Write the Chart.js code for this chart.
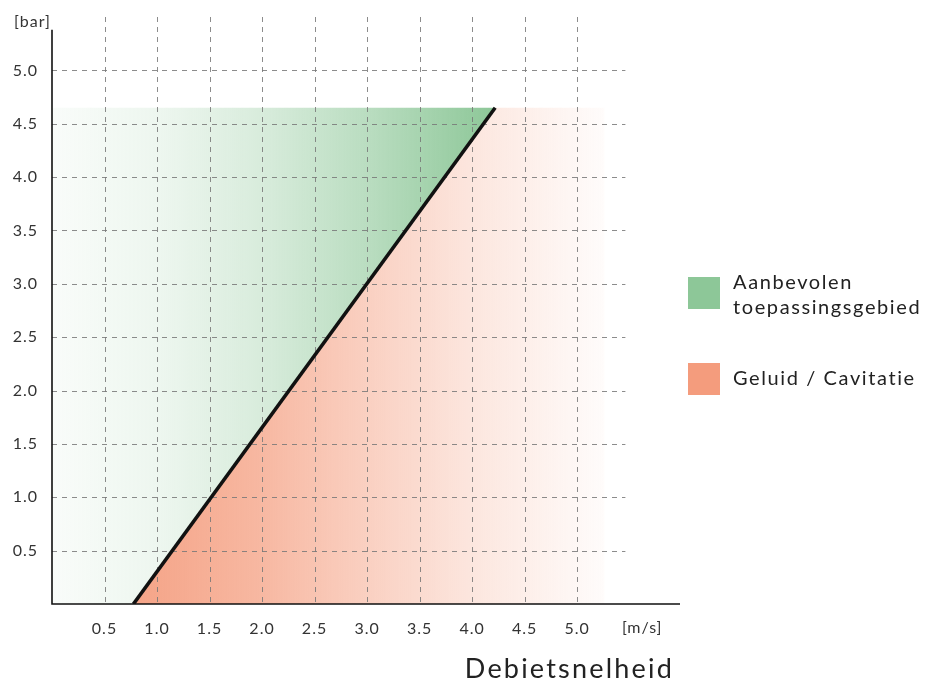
<!DOCTYPE html>
<html>
<head>
<meta charset="utf-8">
<script src="https://cdn.jsdelivr.net/npm/chart.js@4.4.1/dist/chart.umd.min.js"></script>
<style>
  html, body { margin: 0; padding: 0; background: #fff; }
  #wrap { position: relative; width: 926px; height: 682px; font-family: Lato, "Open Sans", sans-serif; }
  canvas { position: absolute; left: 0; top: 0; }
  .lg { position: absolute; left: 688px; width: 240px; color: #222; font-size: 20px; line-height: 25px; letter-spacing: 1.6px; }
  .sw { position: absolute; left: 0; width: 32px; height: 32px; }
  .tx { position: absolute; left: 45px; white-space: nowrap; }
</style>
</head>
<body>
<div id="wrap">
  <canvas id="c" width="926" height="682"></canvas>
  <div class="lg" style="top:277px;"><div class="sw" style="background:#8dc798;"></div><div class="tx" style="top:-8px;">Aanbevolen<br>toepassingsgebied</div></div>
  <div class="lg" style="top:363px;"><div class="sw" style="background:#f49c7d;"></div><div class="tx" style="top:2px;">Geluid / Cavitatie</div></div>
</div>
<script>
// ---- data ----
const xTicks = [0.5, 1.0, 1.5, 2.0, 2.5, 3.0, 3.5, 4.0, 4.5, 5.0];
const yTicks = [0.5, 1.0, 1.5, 2.0, 2.5, 3.0, 3.5, 4.0, 4.5, 5.0];
const xUnit = '[m/s]';
const yUnit = '[bar]';
const xTitle = 'Debietsnelheid';
const boundaryLine = [{x: 0.775, y: 0}, {x: 4.22, y: 4.65}];
const recommendedArea = [{x: 0, y: 0}, {x: 0.775, y: 0}, {x: 4.22, y: 4.65}, {x: 0, y: 4.65}];
const noiseArea = [{x: 0.775, y: 0}, {x: 5.26, y: 0}, {x: 5.26, y: 4.65}, {x: 4.22, y: 4.65}];
const legendLabels = ['Aanbevolen toepassingsgebied', 'Geluid / Cavitatie'];

const FONT = 'Lato, "Open Sans", sans-serif';

function greenGrad(ctx) {
  const chart = ctx.chart;
  if (!chart.chartArea) return 'rgba(141,199,152,0.5)';
  const xs = chart.scales.x;
  const g = chart.ctx.createLinearGradient(xs.getPixelForValue(0), 0, xs.getPixelForValue(4.22), 0);
  g.addColorStop(0, 'rgba(141,199,152,0.05)');
  g.addColorStop(0.25, 'rgba(141,199,152,0.16)');
  g.addColorStop(0.48, 'rgba(141,199,152,0.35)');
  g.addColorStop(0.72, 'rgba(141,199,152,0.62)');
  g.addColorStop(1, 'rgba(141,199,152,1)');
  return g;
}
function salmonGrad(ctx) {
  const chart = ctx.chart;
  if (!chart.chartArea) return 'rgba(244,156,125,0.5)';
  const xs = chart.scales.x;
  const g = chart.ctx.createLinearGradient(xs.getPixelForValue(0.775), 0, xs.getPixelForValue(5.26), 0);
  g.addColorStop(0, 'rgba(244,156,125,0.92)');
  g.addColorStop(0.27, 'rgba(244,156,125,0.72)');
  g.addColorStop(0.5, 'rgba(244,156,125,0.47)');
  g.addColorStop(0.72, 'rgba(244,156,125,0.25)');
  g.addColorStop(0.94, 'rgba(244,156,125,0.08)');
  g.addColorStop(1, 'rgba(244,156,125,0.03)');
  return g;
}

const gridPlugin = {
  id: 'gridPlugin',
  beforeDraw(chart) {
    chart.ctx.letterSpacing = '1px';
  },
  beforeDatasetsDraw(chart) {
    const {ctx, chartArea: a, scales: {x, y}} = chart;
    ctx.save();
    ctx.strokeStyle = 'rgba(120,120,120,0.85)';
    ctx.lineWidth = 1;
    ctx.setLineDash([5, 5]);
    xTicks.forEach(v => {
      const px = Math.round(x.getPixelForValue(v)) + 0.5;
      ctx.beginPath(); ctx.moveTo(px, a.top); ctx.lineTo(px, a.bottom); ctx.stroke();
    });
    const hEnd = x.getPixelForValue(5.46);
    yTicks.forEach(v => {
      const py = Math.round(y.getPixelForValue(v)) + 0.5;
      ctx.beginPath(); ctx.moveTo(a.left, py); ctx.lineTo(hEnd, py); ctx.stroke();
    });
    ctx.setLineDash([]);
    ctx.strokeStyle = '#111';
    ctx.lineWidth = 1.6;
    ctx.beginPath();
    ctx.moveTo(a.left, y.getPixelForValue(5.38));
    ctx.lineTo(a.left, a.bottom);
    ctx.lineTo(a.right, a.bottom);
    ctx.stroke();
    ctx.restore();
  },
  afterDraw(chart) {
    const {ctx, chartArea: a, scales: {x, y}} = chart;
    ctx.save();
    ctx.fillStyle = '#333';
    ctx.letterSpacing = '1px';
    ctx.font = '16px ' + FONT;
    ctx.textBaseline = 'middle';
    ctx.textAlign = 'right';
    ctx.fillText(yUnit, a.left - 1, y.getPixelForValue(5.45));
    ctx.textAlign = 'center';
    ctx.fillText(xUnit, x.getPixelForValue(5.62), a.bottom + 24);
    ctx.fillStyle = '#222';
    ctx.letterSpacing = '2.2px';
    ctx.font = '27px ' + FONT;
    ctx.textAlign = 'right';
    ctx.fillText(xTitle, 674, a.bottom + 65);
    ctx.restore();
  }
};

const noPad = s => { s.paddingTop = 0; s.paddingBottom = 0; s.paddingLeft = 0; s.paddingRight = 0; };

new Chart(document.getElementById('c'), {
  type: 'line',
  data: {
    datasets: [
      { label: legendLabels[0], data: recommendedArea, fill: 'shape', backgroundColor: greenGrad,
        borderColor: 'rgba(0,0,0,0)', borderWidth: 0, pointRadius: 0, tension: 0 },
      { label: legendLabels[1], data: noiseArea, fill: 'shape', backgroundColor: salmonGrad,
        borderColor: 'rgba(0,0,0,0)', borderWidth: 0, pointRadius: 0, tension: 0 },
      { label: 'grens', data: boundaryLine, fill: false, borderColor: '#111', borderWidth: 3.6,
        pointRadius: 0, tension: 0, borderCapStyle: 'butt' }
    ]
  },
  options: {
    responsive: false,
    animation: false,
    layout: { padding: { top: 17, right: 246, left: 0, bottom: 0 } },
    plugins: {
      legend: { display: false },
      tooltip: { enabled: false },
      filler: { drawTime: 'beforeDraw' }
    },
    scales: {
      x: {
        type: 'linear', min: 0, max: 5.98,
        afterFit: s => { s.height = 78; noPad(s); },
        afterBuildTicks: s => { s.ticks = xTicks.map(v => ({value: v})); },
        grid: { display: false, drawTicks: false },
        border: { display: false },
        ticks: { padding: 15, color: '#333', font: { family: FONT, size: 16 },
                 callback: v => v.toFixed(1), maxRotation: 0, autoSkip: false }
      },
      y: {
        type: 'linear', min: 0, max: 5.5,
        afterFit: s => { s.width = 52; noPad(s); },
        afterBuildTicks: s => { s.ticks = yTicks.map(v => ({value: v})); },
        grid: { display: false, drawTicks: false },
        border: { display: false },
        ticks: { padding: 14, color: '#333', font: { family: FONT, size: 16 },
                 callback: v => v.toFixed(1), autoSkip: false }
      }
    }
  },
  plugins: [gridPlugin]
});
</script>
</body>
</html>
